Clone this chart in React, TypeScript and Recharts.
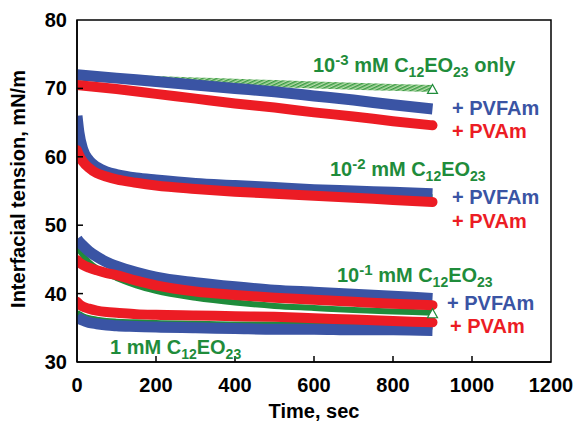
import { Line, LineChart, ReferenceArea, XAxis, YAxis } from "recharts";

// time grids (sec)
const tLin = [0, 100, 200, 300, 400, 500, 600, 700, 800, 900];
const tDecay = [0, 5, 15, 30, 50, 75, 100, 150, 200, 300, 400, 500, 600, 700, 800, 900];
const xTicks = [0, 200, 400, 600, 800, 1000, 1200];
const yTicks = [30, 40, 50, 60, 70, 80];

// 10^-3 mM C12EO23 (on tLin)
const green3 = [71.6, 71.5, 71.3, 71.1, 70.9, 70.7, 70.5, 70.3, 70.15, 70.0];
const blue3 = [72.0, 71.5, 71.0, 70.5, 70.0, 69.5, 68.9, 68.3, 67.6, 67.0];
const red3 = [70.5, 69.9, 69.2, 68.5, 67.8, 67.2, 66.5, 65.9, 65.2, 64.6];

// 10^-2 mM C12EO23 (on tDecay)
const green2 = [63.5, 62.0, 60.3, 59.0, 58.0, 57.4, 57.0, 56.5, 56.2, 55.7, 55.3, 55.0, 54.8, 54.5, 54.3, 54.1];
const blue2 = [66.0, 63.5, 61.0, 59.5, 58.5, 57.8, 57.4, 56.9, 56.6, 56.1, 55.8, 55.5, 55.2, 55.0, 54.8, 54.6];
const red2 = [61.0, 60.3, 59.3, 58.4, 57.6, 57.1, 56.7, 56.2, 55.8, 55.3, 54.9, 54.6, 54.3, 54.0, 53.7, 53.4];

// 10^-1 mM C12EO23 (on tDecay)
const green1 = [47.1, 46.5, 45.6, 44.6, 43.7, 42.9, 42.3, 41.2, 40.4, 39.4, 38.7, 38.2, 37.9, 37.6, 37.4, 37.2];
const blue1 = [48.0, 47.6, 47.0, 46.2, 45.4, 44.6, 44.0, 43.1, 42.4, 41.6, 41.0, 40.5, 40.2, 39.9, 39.6, 39.3];
const red1 = [44.9, 44.6, 44.2, 43.8, 43.4, 43.0, 42.7, 41.9, 41.2, 40.3, 39.8, 39.4, 39.1, 38.8, 38.5, 38.3];

// 1 mM C12EO23 (on tDecay)
const green0 = [37.2, 37.0, 36.7, 36.4, 36.2, 36.0, 35.9, 35.8, 35.7, 35.6, 35.5, 35.5, 35.4, 35.3, 35.3, 35.2];
const blue0 = [36.6, 36.4, 36.1, 35.8, 35.6, 35.4, 35.3, 35.2, 35.1, 35.0, 34.9, 34.8, 34.8, 34.7, 34.7, 34.6];
const red0 = [38.8, 38.5, 38.1, 37.8, 37.5, 37.3, 37.2, 37.0, 36.9, 36.8, 36.7, 36.6, 36.4, 36.2, 36.0, 35.8];

const GREEN = "#1f8c3b";
const BLUE = "#3a54a4";
const RED = "#ec1c24";
const FONT = "'Liberation Sans', Arial, sans-serif";

const zip = (ts: number[], vs: number[]) => ts.map((t, i) => ({ t, v: vs[i] }));

const endTriangle = (count: number) => (props: any) => {
  const { cx, cy, index } = props;
  if (index !== count - 1) return <g key={index} />;
  return (
    <path
      key={index}
      d={`M${cx - 5},${cy + 5} L${cx + 5},${cy + 5} L${cx},${cy - 4} Z`}
      fill="#fff"
      stroke={GREEN}
      strokeWidth={1.2}
    />
  );
};

const XTick = ({ x, y, payload }: any) => (
  <g>
    {payload.value > 0 && payload.value < 1200 && (
      <line x1={x} x2={x} y1={y} y2={y - 6} stroke="#000" strokeWidth={1.5} />
    )}
    <text x={x} y={y + 30} textAnchor="middle" fontSize={20} fontWeight="bold" fontFamily={FONT} fill="#000">
      {payload.value}
    </text>
  </g>
);

const YTick = ({ x, y, payload }: any) => (
  <g>
    {payload.value > 30 && payload.value < 80 && (
      <line x1={x} x2={x + 6} y1={y} y2={y} stroke="#000" strokeWidth={1.5} />
    )}
    <text x={x - 10} y={y + 7} textAnchor="end" fontSize={20} fontWeight="bold" fontFamily={FONT} fill="#000">
      {payload.value}
    </text>
  </g>
);

function Conc({ x, y, exp, only }: { x: number; y: number; exp?: string; only?: boolean }) {
  return (
    <text x={x} y={y} fill={GREEN} fontSize={20} fontWeight="bold" fontFamily={FONT} style={{ whiteSpace: "pre" }}>
      {exp ? (
        <>
          <tspan>10</tspan>
          <tspan fontSize={15} dy={-7}>{exp}</tspan>
          <tspan dy={7}> mM C</tspan>
        </>
      ) : (
        <tspan>1 mM C</tspan>
      )}
      <tspan fontSize={14} dy={5}>12</tspan>
      <tspan dy={-5}>EO</tspan>
      <tspan fontSize={14} dy={5}>23</tspan>
      {only && <tspan dy={-5}> only</tspan>}
    </text>
  );
}

function Tag({ x, y, color, label }: { x: number; y: number; color: string; label: string }) {
  return (
    <text x={x} y={y} fill={color} fontSize={20} fontWeight="bold" fontFamily={FONT} style={{ whiteSpace: "pre" }}>
      {label}
    </text>
  );
}

export default function App() {
  const lines = [
    { key: "g3", data: zip(tLin, green3), color: "url(#hatch)", w: 7, cap: "butt", tri: true },
    { key: "g2", data: zip(tDecay, green2), color: GREEN, w: 6, cap: "butt", tri: false },
    { key: "g1", data: zip(tDecay, green1), color: GREEN, w: 6, cap: "butt", tri: true },
    { key: "g0", data: zip(tDecay, green0), color: GREEN, w: 6, cap: "butt", tri: false },
    { key: "b3", data: zip(tLin, blue3), color: BLUE, w: 11, cap: "butt", tri: false },
    { key: "b2", data: zip(tDecay, blue2), color: BLUE, w: 11, cap: "butt", tri: false },
    { key: "b1", data: zip(tDecay, blue1), color: BLUE, w: 11, cap: "butt", tri: false },
    { key: "b0", data: zip(tDecay, blue0), color: BLUE, w: 11, cap: "butt", tri: false },
    { key: "r3", data: zip(tLin, red3), color: RED, w: 10, cap: "round", tri: false },
    { key: "r2", data: zip(tDecay, red2), color: RED, w: 10, cap: "round", tri: false },
    { key: "r1", data: zip(tDecay, red1), color: RED, w: 10, cap: "round", tri: false },
    { key: "r0", data: zip(tDecay, red0), color: RED, w: 10, cap: "round", tri: false },
  ];

  return (
    <div style={{ position: "absolute", left: 0, top: 0, width: 575, height: 429, background: "#fff" }}>
      <LineChart width={575} height={429} margin={{ top: 20, right: 24, bottom: 0, left: 0 }}>
        <defs>
          <pattern id="hatch" width="3" height="3" patternUnits="userSpaceOnUse" patternTransform="rotate(65)">
            <rect width="3" height="3" fill="#b5dca8" />
            <rect width="1.5" height="3" fill="#3b9b45" />
          </pattern>
        </defs>
        <XAxis
          type="number"
          dataKey="t"
          domain={[0, 1200]}
          ticks={xTicks}
          height={67}
          tickSize={0}
          tickMargin={0}
          tick={<XTick />}
          axisLine={{ stroke: "#000", strokeWidth: 1.5 }}
          allowDataOverflow
        />
        <YAxis
          type="number"
          domain={[30, 80]}
          ticks={yTicks}
          width={77}
          tickSize={0}
          tickMargin={0}
          tick={<YTick />}
          axisLine={{ stroke: "#000", strokeWidth: 1.5 }}
          allowDataOverflow
        />
        <ReferenceArea x1={0} x2={1200} y1={30} y2={80} fill="none" stroke="#000" strokeWidth={1.5} />
        {lines.map((l) => (
          <Line
            key={l.key}
            data={l.data}
            dataKey="v"
            type="monotone"
            stroke={l.color}
            strokeWidth={l.w}
            strokeLinecap={l.cap as any}
            dot={l.tri ? endTriangle(l.data.length) : false}
            activeDot={false}
            isAnimationActive={false}
          />
        ))}
      </LineChart>
      <svg width={575} height={429} style={{ position: "absolute", left: 0, top: 0, pointerEvents: "none" }}>
        <Conc x={313} y={72} exp="-3" only />
        <Tag x={452} y={115} color={BLUE} label="+ PVFAm" />
        <Tag x={452} y={138} color={RED} label="+ PVAm" />
        <Conc x={330} y={176} exp="-2" />
        <Tag x={452} y={204} color={BLUE} label="+ PVFAm" />
        <Tag x={452} y={228} color={RED} label="+ PVAm" />
        <Conc x={337} y={282} exp="-1" />
        <Tag x={447} y={310} color={BLUE} label="+ PVFAm" />
        <Tag x={450} y={333} color={RED} label="+ PVAm" />
        <Conc x={110} y={354} />
        <text
          x={0}
          y={0}
          transform="translate(25,189) rotate(-90)"
          textAnchor="middle"
          fontSize={20}
          fontWeight="bold"
          fontFamily={FONT}
          fill="#000"
        >
          Interfacial tension, mN/m
        </text>
        <text x={314} y={418} textAnchor="middle" fontSize={20} fontWeight="bold" fontFamily={FONT} fill="#000">
          Time, sec
        </text>
      </svg>
    </div>
  );
}
